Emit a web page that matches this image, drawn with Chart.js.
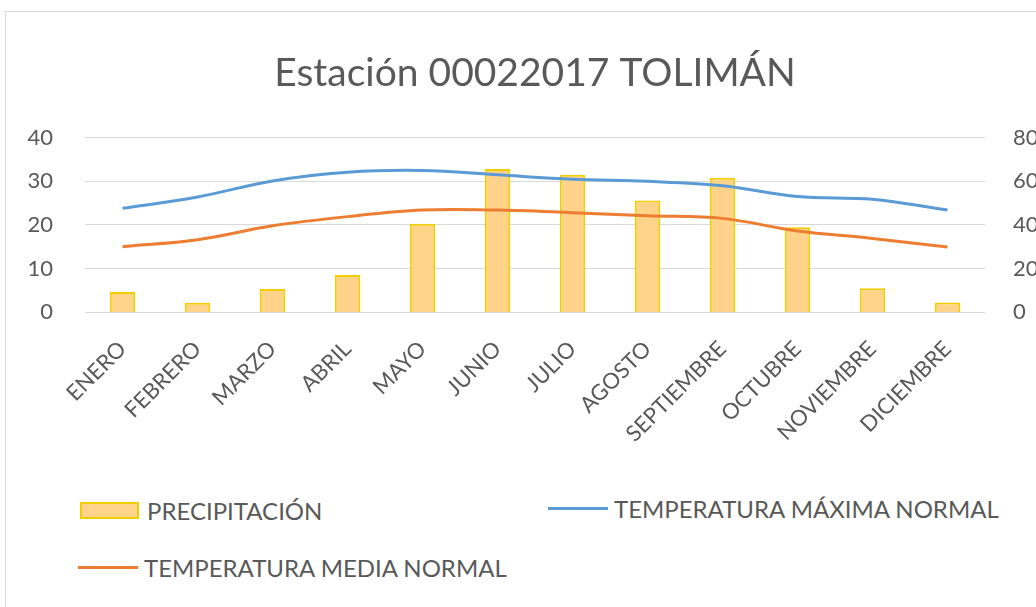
<!DOCTYPE html>
<html>
<head>
<meta charset="utf-8">
<script src="https://cdn.jsdelivr.net/npm/chart.js@4"></script>
<style>
    body { margin: 0; background: #fff; overflow: hidden; width: 1036px; height: 607px; }
    #frame { position: absolute; left: 5px; top: 11px; width: 1100px; height: 620px; border: 1px solid #d9d9d9; }
    #wrap { position: absolute; left: 0; top: 0; width: 1058px; height: 480px; }
    .leg { position: absolute; font-family: Lato, sans-serif; font-size: 24px; line-height: 24px; color: #595959; white-space: nowrap; }
    .leg span { display: inline-block; vertical-align: middle; }
</style>
</head>
<body>
<div id="frame">
    <div id="wrap"><canvas id="grafico"></canvas></div>
    <div id="legenda"></div>
</div>
<script>
const meses = ["ENERO", "FEBRERO", "MARZO", "ABRIL", "MAYO", "JUNIO", "JULIO",
    "AGOSTO", "SEPTIEMBRE", "OCTUBRE", "NOVIEMBRE", "DICIEMBRE"];
const precipitacion = [9.2, 4.3, 10.6, 17, 40.5, 65.7, 63, 51.2, 61.7, 38.9, 10.9, 4.4];
const tempMaxima = [23.8, 26.4, 30.1, 32.1, 32.5, 31.5, 30.5, 30.0, 29.0, 26.5, 25.9, 23.4];
const tempMedia = [15.0, 16.6, 19.8, 21.9, 23.4, 23.4, 22.8, 22.1, 21.5, 18.6, 16.9, 14.9];
const ticksTemp = [0, 10, 20, 30, 40];
const ticksPrec = [0, 20, 40, 60, 80];

const gris = "#595959";

const ctx = document.getElementById("grafico").getContext("2d");

const chart = new Chart(ctx, {
    type: "bar",
    data: {
        labels: meses,
        datasets: [
            {
                label: "PRECIPITACIÓN",
                data: precipitacion,
                yAxisID: "yPrec",
                backgroundColor: "#FFD38A",
                borderColor: "#F2CE00",
                borderWidth: 2,
                barPercentage: 0.34,
                categoryPercentage: 1,
                order: 3,
            },
            {
                label: "TEMPERATURA MÁXIMA NORMAL",
                type: "line",
                data: tempMaxima,
                yAxisID: "yTemp",
                borderColor: "#5B9BD5",
                borderWidth: 3,
                pointRadius: 0,
                tension: 0.35,
                order: 1,
            },
            {
                label: "TEMPERATURA MEDIA NORMAL",
                type: "line",
                data: tempMedia,
                yAxisID: "yTemp",
                borderColor: "#ED7D31",
                borderWidth: 3,
                pointRadius: 0,
                tension: 0.35,
                order: 2,
            },
        ],
    },
    options: {
        responsive: true,
        maintainAspectRatio: false,
        animation: false,
        layout: { padding: 0 },
        plugins: {
            legend: { display: false },
            tooltip: { enabled: false },
            title: {
                display: true,
                text: "Estación 00022017 TOLIMÁN",
                color: gris,
                font: { family: "Lato", size: 39, weight: "normal", lineHeight: 1.2 },
                padding: { top: 38, bottom: 41 },
            },
        },
        scales: {
            x: {
                grid: { display: false },
                border: { display: false },
                ticks: {
                    color: gris,
                    font: { family: "Lato", size: 22 },
                    maxRotation: 45,
                    minRotation: 45,
                    padding: 16,
                },
                afterFit: s => { s.height = 180; },
            },
            yTemp: {
                position: "left",
                min: 0,
                max: 40,
                afterBuildTicks: s => { s.ticks = ticksTemp.map(v => ({ value: v })); },
                grid: { color: "#d9d9d9", lineWidth: 1, drawTicks: false },
                border: { display: false },
                ticks: { color: gris, font: { family: "Lato", size: 22 }, padding: 32 },
                afterFit: s => { s.width = 79; },
            },
            yPrec: {
                position: "right",
                min: 0,
                max: 80,
                afterBuildTicks: s => { s.ticks = ticksPrec.map(v => ({ value: v })); },
                grid: { display: false, drawTicks: false },
                border: { display: false },
                ticks: { color: gris, font: { family: "Lato", size: 22 }, padding: 28 },
                afterFit: s => { s.width = 79; },
            },
        },
    },
});

// leyenda en dos columnas como en la hoja original
const posLeyenda = [
    { left: 74, top: 484 },
    { left: 542, top: 482 },
    { left: 72, top: 541 },
];
const legenda = document.getElementById("legenda");
chart.data.datasets.forEach((ds, i) => {
    const div = document.createElement("div");
    div.className = "leg";
    div.style.left = posLeyenda[i].left + "px";
    div.style.top = posLeyenda[i].top + "px";
    const marca = document.createElement("span");
    if (ds.type === "line") {
        marca.style.cssText = `width:60px;height:3px;background:${ds.borderColor};margin-right:6px;`;
    } else {
        marca.style.cssText = `width:55px;height:13px;background:${ds.backgroundColor};` +
            `border:2px solid ${ds.borderColor};margin-right:8px;`;
    }
    const txt = document.createElement("span");
    txt.textContent = ds.label;
    div.appendChild(marca);
    div.appendChild(txt);
    legenda.appendChild(div);
});
</script>
</body>
</html>
